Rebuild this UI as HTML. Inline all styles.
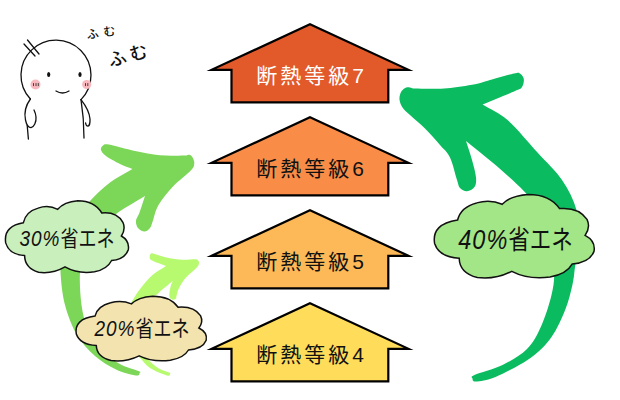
<!DOCTYPE html>
<html lang="ja"><head><meta charset="utf-8"><title>断熱等級</title>
<style>
html,body{margin:0;padding:0;background:#fff;}
body{width:620px;height:400px;overflow:hidden;}
svg{display:block;}
text{font-family:"Liberation Sans","Noto Sans CJK JP",sans-serif;}
.ht{font-size:21px;font-weight:400;letter-spacing:3px;}
.ct{font-weight:400;fill:#111;}
.ct .n{font-style:italic;}
</style></head><body>
<svg width="620" height="400" viewBox="0 0 620 400">
<rect width="620" height="400" fill="#fff"/>
<!-- arrows -->
<path d="M139.6,373.0 C140.0,372.2 141.9,372.6 138.5,371.0 C135.1,369.4 125.8,367.5 119.0,363.5 C112.2,359.5 103.2,352.8 98.0,347.0 C92.8,341.2 90.2,336.0 87.5,329.0 C84.8,322.0 82.8,314.5 81.5,305.0 C80.2,295.5 79.4,281.2 80.0,272.0 C80.6,262.8 82.2,257.0 85.0,250.0 C87.8,243.0 91.8,236.0 97.0,230.0 C102.2,224.0 110.5,218.2 116.0,214.0 C121.5,209.8 125.2,208.0 130.0,205.0 C134.8,202.0 140.0,199.0 145.0,196.0 C143.2,201.5 141.0,208.3 139.5,212.5 C138.0,216.7 136.2,218.4 136.0,221.0 C135.8,223.6 136.6,226.2 138.0,228.0 C139.4,229.8 142.5,231.5 144.5,231.5 C146.5,231.5 148.6,229.8 150.0,228.0 C151.4,226.2 151.4,224.8 152.8,221.0 C154.2,217.2 155.1,210.8 158.5,205.0 C161.9,199.2 167.6,192.2 173.0,186.5 C178.4,180.8 187.3,174.2 190.8,170.5 C194.3,166.8 193.8,166.1 194.2,164.0 C194.6,161.9 193.8,159.7 193.0,158.2 C192.2,156.7 191.0,155.2 189.5,154.8 C188.0,154.4 188.9,155.4 184.0,155.5 C179.1,155.6 168.2,156.1 160.0,155.3 C151.8,154.6 143.5,152.8 135.0,151.0 C126.5,149.2 114.3,145.4 109.0,144.5 C103.7,143.6 104.3,144.6 103.0,145.5 C101.7,146.4 100.5,148.2 101.0,150.0 C101.5,151.8 102.8,153.7 106.0,156.0 C109.2,158.3 115.6,161.8 120.0,164.0 C124.4,166.2 128.3,167.3 132.5,169.0 C125.0,173.5 117.1,177.2 110.0,182.5 C102.9,187.8 96.3,194.4 90.0,201.0 C83.7,207.6 76.7,213.8 72.0,222.0 C67.3,230.2 63.9,241.7 62.0,250.0 C60.1,258.3 60.0,262.8 60.5,272.0 C61.0,281.2 62.2,294.5 65.0,305.0 C67.8,315.5 72.0,326.5 77.0,335.0 C82.0,343.5 88.5,350.2 95.0,356.0 C101.5,361.8 109.2,366.2 116.0,369.5 C122.8,372.8 132.1,374.9 136.0,375.5 C139.9,376.1 139.2,373.8 139.6,373.0Z" fill="#7CD657"/>
<path d="M170.0,374.0 C170.3,373.5 171.0,373.5 169.0,372.5 C167.0,371.5 161.7,370.4 158.0,368.0 C154.3,365.6 150.8,362.7 147.0,358.0 C143.2,353.3 137.8,346.3 135.0,340.0 C132.2,333.7 129.2,326.7 130.0,320.0 C130.8,313.3 135.8,304.1 140.0,300.0 C144.2,295.9 152.2,296.7 155.5,295.3 C158.8,293.9 157.1,293.9 160.0,291.5 C162.9,289.1 168.5,284.5 172.8,281.0 C172.0,283.0 171.1,284.6 170.5,287.0 C169.9,289.4 169.3,293.4 169.3,295.3 C169.3,297.2 169.8,297.8 170.5,298.5 C171.2,299.2 172.6,299.8 173.5,299.8 C174.4,299.8 175.5,299.1 176.0,298.5 C176.5,297.9 176.0,297.7 176.5,296.0 C177.0,294.3 177.3,291.5 178.8,288.5 C180.3,285.5 182.5,281.5 185.5,278.0 C188.5,274.5 194.6,270.0 196.8,267.5 C199.1,265.0 198.8,264.2 199.0,263.0 C199.2,261.8 198.6,261.1 198.0,260.5 C197.4,259.9 197.9,259.4 195.3,259.3 C192.7,259.2 187.1,259.9 182.5,259.7 C177.9,259.4 172.4,258.9 167.5,257.8 C162.6,256.8 155.8,254.0 153.0,253.4 C150.2,252.8 151.1,253.7 150.5,254.3 C149.9,254.9 149.4,255.9 149.7,257.0 C149.9,258.1 149.3,259.1 152.0,260.6 C154.7,262.1 161.3,264.2 166.0,266.0 C161.5,269.0 156.8,271.2 152.5,275.0 C148.2,278.8 143.9,284.1 140.5,288.5 C137.1,292.9 135.1,296.1 132.0,301.3 C128.9,306.6 123.3,313.6 122.0,320.0 C120.7,326.4 122.3,334.7 124.0,340.0 C125.7,345.3 129.3,349.0 132.0,352.0 C134.7,355.0 137.0,355.3 140.0,358.0 C143.0,360.7 145.5,365.1 150.0,368.0 C154.5,370.9 163.7,374.5 167.0,375.5 C170.3,376.5 169.7,374.5 170.0,374.0Z" fill="#B8FA6F"/>
<path d="M472.5,378.5 C472.2,377.4 469.5,377.2 474.5,375.0 C479.5,372.8 493.8,369.3 502.5,365.0 C511.2,360.7 520.6,355.4 527.0,349.0 C533.4,342.6 536.9,335.5 541.0,326.5 C545.1,317.5 549.3,304.4 551.5,295.0 C553.7,285.6 554.6,280.0 554.0,270.0 C553.4,260.0 550.3,244.7 548.0,235.0 C545.7,225.3 543.4,218.7 540.0,212.0 C536.6,205.3 532.1,200.3 527.5,195.0 C522.9,189.7 518.3,185.4 512.5,180.0 C506.7,174.6 500.2,169.0 492.5,162.5 C484.8,156.0 474.8,148.2 466.0,141.0 C468.0,147.3 470.3,153.9 472.0,160.0 C473.7,166.1 475.6,173.0 476.0,177.5 C476.4,182.0 476.0,184.7 474.5,187.0 C473.0,189.3 469.4,191.1 467.0,191.3 C464.6,191.5 461.7,189.9 460.0,188.0 C458.3,186.1 458.7,185.1 457.0,180.0 C455.3,174.9 452.8,163.3 450.0,157.5 C447.2,151.7 444.2,149.8 440.0,145.0 C435.8,140.2 430.0,133.5 425.0,128.5 C420.0,123.5 413.8,118.5 410.0,115.0 C406.2,111.5 404.2,110.1 402.5,107.5 C400.8,104.9 399.8,102.0 399.5,99.5 C399.2,97.0 400.0,94.3 400.8,92.5 C401.6,90.7 403.0,89.4 404.3,88.5 C405.6,87.6 406.8,87.3 408.5,87.3 C410.2,87.3 410.9,88.3 414.5,88.6 C418.1,88.8 424.5,88.8 430.0,88.8 C435.5,88.8 440.0,89.0 447.5,88.3 C455.0,87.5 467.9,85.7 475.0,84.3 C482.1,82.9 483.5,81.8 490.0,80.0 C496.5,78.2 509.0,74.6 514.0,73.5 C519.0,72.4 518.4,72.6 520.0,73.5 C521.6,74.4 523.4,76.8 523.8,79.0 C524.1,81.2 523.5,85.0 522.0,87.0 C520.5,89.0 521.6,88.1 515.0,91.0 C508.4,93.9 493.3,100.0 482.5,104.5 C490.8,109.7 498.3,112.0 507.5,120.0 C516.7,128.0 528.4,142.5 537.5,152.5 C546.6,162.5 555.5,170.4 562.0,180.0 C568.5,189.6 573.8,200.0 576.5,210.0 C579.2,220.0 578.8,230.5 578.5,240.0 C578.2,249.5 576.0,259.6 575.0,267.0 C574.0,274.4 574.1,277.5 572.5,284.5 C570.9,291.5 569.0,300.2 565.5,309.0 C562.0,317.8 557.3,328.8 551.5,337.0 C545.7,345.2 539.8,351.3 530.5,358.0 C521.2,364.7 504.6,373.1 495.5,377.0 C486.4,380.9 479.8,381.2 476.0,381.5 C472.2,381.8 472.8,379.6 472.5,378.5Z" fill="#0BBB5F"/>
<!-- houses -->
<path d="M310,24.3 L408.5,69.8 L388.3,69.8 L388.3,102.3 L231.5,102.3 L231.5,69.8 L211.5,69.8 Z" fill="#E2592A" stroke="#000" stroke-width="2.2" stroke-linejoin="miter" stroke-miterlimit="12"/>
<text transform="translate(311.5,83.0)" fill="#fff" class="ht" text-anchor="middle">断熱等級7</text>
<path d="M310,117.3 L408.5,162.8 L388.3,162.8 L388.3,195.3 L231.5,195.3 L231.5,162.8 L211.5,162.8 Z" fill="#F98D48" stroke="#000" stroke-width="2.2" stroke-linejoin="miter" stroke-miterlimit="12"/>
<text transform="translate(311.5,176.0)" fill="#111" class="ht" text-anchor="middle">断熱等級6</text>
<path d="M310,210.3 L408.5,255.8 L388.3,255.8 L388.3,288.3 L231.5,288.3 L231.5,255.8 L211.5,255.8 Z" fill="#FDB957" stroke="#000" stroke-width="2.2" stroke-linejoin="miter" stroke-miterlimit="12"/>
<text transform="translate(311.5,269.0)" fill="#111" class="ht" text-anchor="middle">断熱等級5</text>
<path d="M310,303.3 L408.5,348.8 L388.3,348.8 L388.3,381.3 L231.5,381.3 L231.5,348.8 L211.5,348.8 Z" fill="#FFDD5B" stroke="#000" stroke-width="2.2" stroke-linejoin="miter" stroke-miterlimit="12"/>
<text transform="translate(311.5,362.0)" fill="#111" class="ht" text-anchor="middle">断熱等級4</text>

<!-- clouds -->
<path d="M23.3,222.8 Q25.8,211.5 38.1,208.1 Q48.4,204.6 57.7,209.3 Q64.1,201.7 77.8,200.7 Q94.5,200.7 101.8,213.0 Q116.5,211.5 122.9,222.3 Q125.9,229.1 121.4,236.0 Q129.8,240.9 128.3,249.7 Q124.9,259.5 111.6,260.5 Q107.2,269.3 94.5,271.8 Q77.8,274.2 65.0,266.9 Q52.3,274.2 38.6,272.3 Q24.8,268.3 24.6,255.6 Q9.1,254.6 5.7,242.9 Q3.2,226.2 23.3,222.8 Z" fill="#C9EFBC" stroke="#111" stroke-width="1.5"/>
<text class="ct" transform="translate(67,246.3) scale(1,1.2)" text-anchor="middle"><tspan class="n" font-size="19" style="letter-spacing:1px">30%</tspan><tspan font-size="18">省エネ</tspan></text>
<path d="M95.0,316.1 Q97.6,305.9 110.6,302.8 Q121.5,299.7 131.4,303.9 Q138.1,297.1 152.7,296.2 Q170.3,296.2 178.1,307.2 Q193.7,305.9 200.5,315.6 Q203.6,321.8 198.9,328.0 Q207.8,332.4 206.2,340.3 Q202.6,349.1 188.5,350.0 Q183.9,358.0 170.3,360.2 Q152.7,362.4 139.2,355.8 Q125.7,362.4 111.1,360.6 Q96.6,357.1 96.3,345.6 Q80.0,344.7 76.3,334.1 Q73.7,319.1 95.0,316.1 Z" fill="#F3E3AE" stroke="#111" stroke-width="1.5"/>
<text class="ct" transform="translate(142,336.2) scale(1,1.2)" text-anchor="middle"><tspan class="n" font-size="19" style="letter-spacing:1px">20%</tspan><tspan font-size="18">省エネ</tspan></text>
<path d="M457.6,220.0 Q460.8,206.9 476.7,202.9 Q490.1,198.9 502.2,204.3 Q510.5,195.5 528.4,194.4 Q550.0,194.4 559.6,208.6 Q578.7,206.9 587.0,219.4 Q590.8,227.4 585.1,235.4 Q595.9,241.1 594.0,251.4 Q589.5,262.8 572.3,263.9 Q566.6,274.2 550.0,277.0 Q528.4,279.9 511.8,271.3 Q495.2,279.9 477.4,277.6 Q459.5,273.0 459.2,258.2 Q439.1,257.1 434.6,243.4 Q431.4,224.0 457.6,220.0 Z" fill="#A3E688" stroke="#111" stroke-width="1.5"/>
<text class="ct" transform="translate(515.5,249) scale(1,1.2)" text-anchor="middle"><tspan class="n" font-size="23.5" style="letter-spacing:1px">40%</tspan><tspan font-size="21.5">省エネ</tspan></text>
<!-- character -->
<g fill="none" stroke="#111" stroke-width="1.3" stroke-linecap="round" stroke-linejoin="round">
<path d="M30.4,99 A35,35 0 1 1 81,99.6"/>
<path d="M30.4,99 C26,105 24,113 25.5,120 C26.5,125 29,127.6 31,127.6 C34,127 36.5,122 36,117 C35.8,114 35,112 34,110"/>
<path d="M27.2,125.5 L28.4,139"/>
<path d="M81,99.6 C86,106 89.5,113 90,119 C90.2,123 89,126 88,126.2 C86.5,126 85.8,124.5 85.6,123"/>
<path d="M81,99.6 C83,112 84,125 84,138"/>
<path d="M24,44 L35,56"/><path d="M27.5,40 L39,54"/>
<path d="M56,91 C60,93.5 65,93.5 69,91"/>
</g>
<ellipse cx="48.7" cy="74.5" rx="1.6" ry="2.6" fill="#111"/>
<ellipse cx="80" cy="74.5" rx="1.6" ry="2.6" fill="#111"/>
<circle cx="35.5" cy="84.5" r="5" fill="#F9B8BD"/>
<circle cx="86.7" cy="84.5" r="4.6" fill="#F9B8BD"/>
<g stroke="#333" stroke-width="0.9" stroke-linecap="round"><path d="M33.5,83.5v2.2M36,83.5v2.2M38.3,83.5v2.2M85.5,83.5v2.2M87.8,83.5v2.2"/></g>
<text x="103.5" y="37" font-size="12" fill="#111" font-weight="500" text-anchor="middle" letter-spacing="5" transform="rotate(-8 101 33)">ふむ</text>
<text x="130" y="62" font-size="18" fill="#111" font-weight="500" text-anchor="middle" letter-spacing="4" transform="rotate(-15 128 56)">ふむ</text>
</svg>
</body></html>
